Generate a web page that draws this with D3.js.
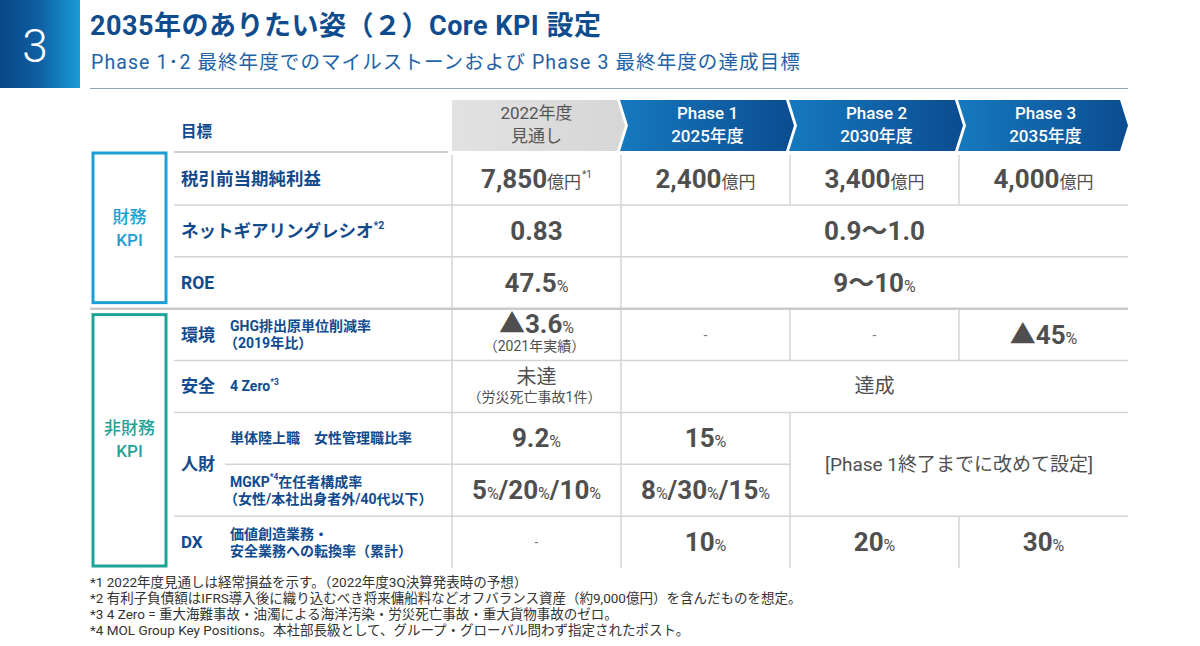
<!DOCTYPE html>
<html><head><meta charset="utf-8">
<script src="https://cdn.jsdelivr.net/npm/d3@7"></script>
<style>
html,body{margin:0;padding:0;background:#fff;}
svg{display:block;}
text{font-family:Roboto,"Noto Sans CJK JP","Noto Sans",sans-serif;}
</style></head>
<body>
<svg id="chart" width="1200" height="646"></svg>
<script>
// ---------- data ----------
const sectionNumber = "3";
const title = "2035年のありたい姿（２）Core KPI 設定";
const subtitle = "Phase 1･2 最終年度でのマイルストーンおよび Phase 3 最終年度の達成目標";
const headerLine1 = ["2022年度", "Phase 1", "Phase 2", "Phase 3"];
const headerLine2 = ["見通し", "2025年度", "2030年度", "2035年度"];
const goalHeader = "目標";
const groupNames = [["財務", "KPI"], ["非財務", "KPI"]];
const groupRows = [[0, 2], [3, 7]];
const mainLabels = ["税引前当期純利益", "ネットギアリングレシオ*2", "ROE", null, null, null, null, null];
const categoryLabels = [null, null, null, "環境", "安全", "人財", null, "DX"];
const categorySpan = [1, 1, 1, 1, 1, 2, 1, 1];
const subLabels = [null, null, null,
  ["GHG排出原単位削減率", "（2019年比）"], ["4 Zero*3"], ["単体陸上職　女性管理職比率"],
  ["MGKP*4在任者構成率", "（女性/本社出身者外/40代以下）"], ["価値創造業務・", "安全業務への転換率（累計）"]];
const values2022 = ["7,850億円*1", "0.83", "47.5%", "▲3.6%", "未達", "9.2%", "5%/20%/10%", "-"];
const notes2022 = [null, null, null, "（2021年実績）", "（労災死亡事故1件）", null, null, null];
const valuesPhase1 = ["2,400億円", "0.9〜1.0", "9〜10%", "-", "達成", "15%", "8%/30%/15%", "10%"];
const valuesPhase2 = ["3,400億円", null, null, "-", null, "[Phase 1終了までに改めて設定]", null, "20%"];
const valuesPhase3 = ["4,000億円", null, null, "▲45%", null, null, null, "30%"];
const spans = [
  {r: 1, c: 1, cs: 3, rs: 1},
  {r: 2, c: 1, cs: 3, rs: 1},
  {r: 4, c: 1, cs: 3, rs: 1},
  {r: 5, c: 2, cs: 2, rs: 2}
];
const footnotes = [
  "*1 2022年度見通しは経常損益を示す。（2022年度3Q決算発表時の予想）",
  "*2 有利子負債額はIFRS導入後に織り込むべき将来傭船料などオフバランス資産（約9,000億円）を含んだものを想定。",
  "*3 4 Zero = 重大海難事故・油濁による海洋汚染・労災死亡事故・重大貨物事故のゼロ。",
  "*4 MOL Group Key Positions。本社部長級として、グループ・グローバル問わず指定されたポスト。"
];

// ---------- setup ----------
const svg = d3.select("#chart");
const BLUE = "#114b8e", GRAY = "#4f4f4f", LINE = "#d4d4d4";
const NUMFONT = "Roboto,'Noto Sans CJK JP',sans-serif";
const columnValues = [values2022, valuesPhase1, valuesPhase2, valuesPhase3];
const x = d3.scaleBand().domain(d3.range(4)).range([452, 1128]);
const y = d3.scaleBand().domain(d3.range(8)).range([153, 568]);
const bw = x.bandwidth(), bh = y.bandwidth();

const defs = svg.append("defs");
function lg(id, stops) {
  const g = defs.append("linearGradient").attr("id", id).attr("x1", "0").attr("x2", "1").attr("y1", "0").attr("y2", "0");
  stops.forEach(s => g.append("stop").attr("offset", s[0]).attr("stop-color", s[1]));
}
lg("boxGrad", [["0", "#0a4888"], ["0.45", "#0d5c9f"], ["1", "#1a9cd8"]]);
lg("phaseGrad", [["0", "#1679bf"], ["1", "#0b4c90"]]);
lg("grayGrad", [["0", "#e2e2e2"], ["1", "#d6d6d6"]]);

// ---------- title block ----------
svg.append("rect").attr("x", 0).attr("y", 0).attr("width", 80).attr("height", 88).attr("fill", "url(#boxGrad)");
svg.append("text").attr("x", 35).attr("y", 62).attr("text-anchor", "middle")
  .attr("fill", "#fff").attr("font-size", 46).attr("font-weight", 300)
  .text(sectionNumber);
svg.append("text").attr("x", 90).attr("y", 35).attr("fill", "#0f4c8d")
  .attr("font-size", 27).attr("letter-spacing", 0.5).attr("font-weight", 700).text(title);
svg.append("text").attr("x", 91).attr("y", 69).attr("fill", "#1f62a6")
  .attr("font-size", 19.5).attr("letter-spacing", 1.1).attr("font-weight", 400).text(subtitle);
svg.append("line").attr("x1", 90).attr("x2", 1128).attr("y1", 88.5).attr("y2", 88.5)
  .attr("stroke", "#8fa5bd").attr("stroke-width", 1.2);

// ---------- header ----------
const hTop = 100, hBot = 151, hMid = (hTop + hBot) / 2, tip = 8;
svg.append("text").attr("x", 181).attr("y", 137).attr("fill", BLUE)
  .attr("font-size", 15.5).attr("font-weight", 700).text(goalHeader);
svg.append("line").attr("x1", 174).attr("x2", 448).attr("y1", 152).attr("y2", 152)
  .attr("stroke", "#bdbdbd").attr("stroke-width", 1.5);

const hdr = svg.append("g").selectAll("g").data(d3.range(4)).join("g");
hdr.append("path").attr("d", i => {
  const left = i === 0 ? x(0) : x(i) - 1;
  const rTop = i === 3 ? x(i) + bw - tip : x(i) + bw - 4;
  const leftNotch = i === 0 ? left : left + tip;
  return `M${left},${hTop}L${rTop},${hTop}L${rTop + tip},${hMid}L${rTop},${hBot}L${left},${hBot}L${leftNotch},${hMid}Z`;
}).attr("fill", i => i === 0 ? "url(#grayGrad)" : "url(#phaseGrad)");
hdr.append("text").attr("x", i => x(i) + bw / 2 + (i === 0 ? 0 : 2)).attr("y", 119)
  .attr("text-anchor", "middle").attr("font-size", 17)
  .attr("font-weight", i => i === 0 ? 400 : 500)
  .attr("fill", i => i === 0 ? "#555" : "#fff").text(i => headerLine1[i]);
hdr.append("text").attr("x", i => x(i) + bw / 2 + (i === 0 ? 0 : 2)).attr("y", 142)
  .attr("text-anchor", "middle").attr("font-size", 17)
  .attr("font-weight", i => i === 0 ? 400 : 500)
  .attr("fill", i => i === 0 ? "#555" : "#fff").text(i => headerLine2[i]);

// ---------- group boxes ----------
const groupColors = ["#1d9fd6", "#1ea497"];
const gb = svg.append("g").selectAll("g").data(groupRows).join("g");
gb.append("rect")
  .attr("x", 93).attr("width", 73)
  .attr("y", (d, i) => y(d[0]) + (i === 0 ? 0 : 6))
  .attr("height", (d, i) => y(d[1]) + bh - y(d[0]) - (i === 0 ? 6 : 8))
  .attr("fill", "none").attr("stroke", (d, i) => groupColors[i]).attr("stroke-width", 3);
gb.each(function(d, i) {
  const cy = (y(d[0]) + y(d[1]) + bh) / 2 + (i === 0 ? -3 : 1);
  const t = d3.select(this).append("text").attr("text-anchor", "middle")
    .attr("fill", groupColors[i]).attr("font-size", 17).attr("font-weight", 500);
  t.append("tspan").attr("x", 129.5).attr("y", cy - 5).text(groupNames[i][0]);
  t.append("tspan").attr("x", 129.5).attr("y", cy + 18).text(groupNames[i][1]);
});

// ---------- cells ----------
const cells = [];
columnValues.forEach((col, c) => col.forEach((v, r) => {
  if (v === null) return;
  const s = spans.find(s => s.r === r && s.c === c) || {cs: 1, rs: 1};
  cells.push({r, c, cs: s.cs, rs: s.rs, v, note: c === 0 ? notes2022[r] : null});
}));

const grid = svg.append("g");
grid.selectAll("line.v").data(cells).join("line").attr("class", "v")
  .attr("x1", d => x(d.c)).attr("x2", d => x(d.c))
  .attr("y1", d => y(d.r) + (d.r === 0 ? 2 : 0)).attr("y2", d => y(d.r) + d.rs * bh)
  .attr("stroke", LINE).attr("stroke-width", 1.5);
grid.selectAll("line.h").data(cells.filter(d => d.r + d.rs < 8)).join("line").attr("class", "h")
  .attr("x1", d => x(d.c)).attr("x2", d => x(d.c) + d.cs * bw)
  .attr("y1", d => y(d.r + d.rs)).attr("y2", d => y(d.r + d.rs))
  .attr("stroke", d => d.r + d.rs === 3 ? "#c9c9c9" : LINE)
  .attr("stroke-width", d => d.r + d.rs === 3 ? 2.5 : 1.5);
const labelBottoms = d3.range(7).map(r => ({r, x0: r === 2 ? 90 : (r === 5 ? 225 : 174)}));
grid.selectAll("line.l").data(labelBottoms).join("line").attr("class", "l")
  .attr("x1", d => d.x0).attr("x2", x(0))
  .attr("y1", d => y(d.r + 1)).attr("y2", d => y(d.r + 1))
  .attr("stroke", d => d.r === 2 ? "#c9c9c9" : LINE)
  .attr("stroke-width", d => d.r === 2 ? 2.5 : 1.5);

// ---------- labels ----------
function addSup(sel, str, bigSize) {
  const m = str.match(/^(.*?)(\*\d)(.*)$/);
  if (!m) { sel.append("tspan").text(str); return; }
  sel.append("tspan").text(m[1]);
  sel.append("tspan").attr("font-size", bigSize * 0.6).attr("dy", -bigSize * 0.45).text(m[2]);
  if (m[3]) sel.append("tspan").attr("dy", bigSize * 0.45).text(m[3]);
}
const lab = svg.append("g").attr("fill", BLUE).attr("font-weight", 700);
mainLabels.forEach((t, r) => {
  if (!t) return;
  const tx = lab.append("text").attr("x", 181).attr("y", y(r) + bh / 2 + 6).attr("font-size", 17.5);
  addSup(tx, t, 17.5);
});
categoryLabels.forEach((t, r) => {
  if (!t) return;
  lab.append("text").attr("x", 181).attr("y", y(r) + categorySpan[r] * bh / 2 + 6)
    .attr("font-size", 17).text(t);
});
subLabels.forEach((lines, r) => {
  if (!lines) return;
  const lh = 17;
  const cy = y(r) + bh / 2;
  lines.forEach((ln, k) => {
    const ty = cy + 5 + (k - (lines.length - 1) / 2) * lh;
    const tx = lab.append("text").attr("x", ln.startsWith("（") ? 224 : 230).attr("y", ty).attr("font-size", 14);
    addSup(tx, ln, 14);
  });
});

// ---------- values ----------
const vals = svg.append("g").attr("fill", GRAY);
cells.forEach(d => {
  const cx = x(d.c) + d.cs * bw / 2;
  const cy = y(d.r) + d.rs * bh / 2;
  const t = vals.append("text").attr("text-anchor", "middle").attr("x", cx);
  if (d.v === "-") {
    t.attr("y", cy + 5).attr("font-size", 14).attr("fill", "#777").text("-");
    return;
  }
  const numeric = /^[0-9▲]/.test(d.v);
  const mainY = d.note ? cy - 2 : (numeric ? cy + 9 : cy + 7);
  if (numeric) {
    t.attr("y", mainY);
    const re = /(\*\d)|(億円|%)|([^*%億円]+)/g;
    let m;
    while ((m = re.exec(d.v)) !== null) {
      if (m[1]) t.append("tspan").attr("font-size", 10).attr("dy", -10).attr("dx", 1).text(m[1]);
      else if (m[2]) t.append("tspan").attr("font-size", m[2] === "%" ? 16 : 17).attr("font-weight", 400).text(m[2]);
      else t.append("tspan").attr("font-size", 26).attr("font-weight", 700)
        .style("font-family", NUMFONT).text(m[3]);
    }
  } else {
    t.attr("y", mainY).attr("font-size", d.v.length > 4 ? 19 : 20).attr("font-weight", 400).text(d.v);
  }
  if (d.note) {
    vals.append("text").attr("text-anchor", "middle").attr("x", cx - 2).attr("y", cy + 16)
      .attr("font-size", 14).attr("font-weight", 400).text(d.note);
  }
});

// ---------- footnotes ----------
svg.append("g").selectAll("text").data(footnotes).join("text")
  .attr("x", 90).attr("y", (d, i) => 587 + i * 16)
  .attr("font-size", 13.5).attr("fill", "#333").text(d => d);
</script>
</body></html>
